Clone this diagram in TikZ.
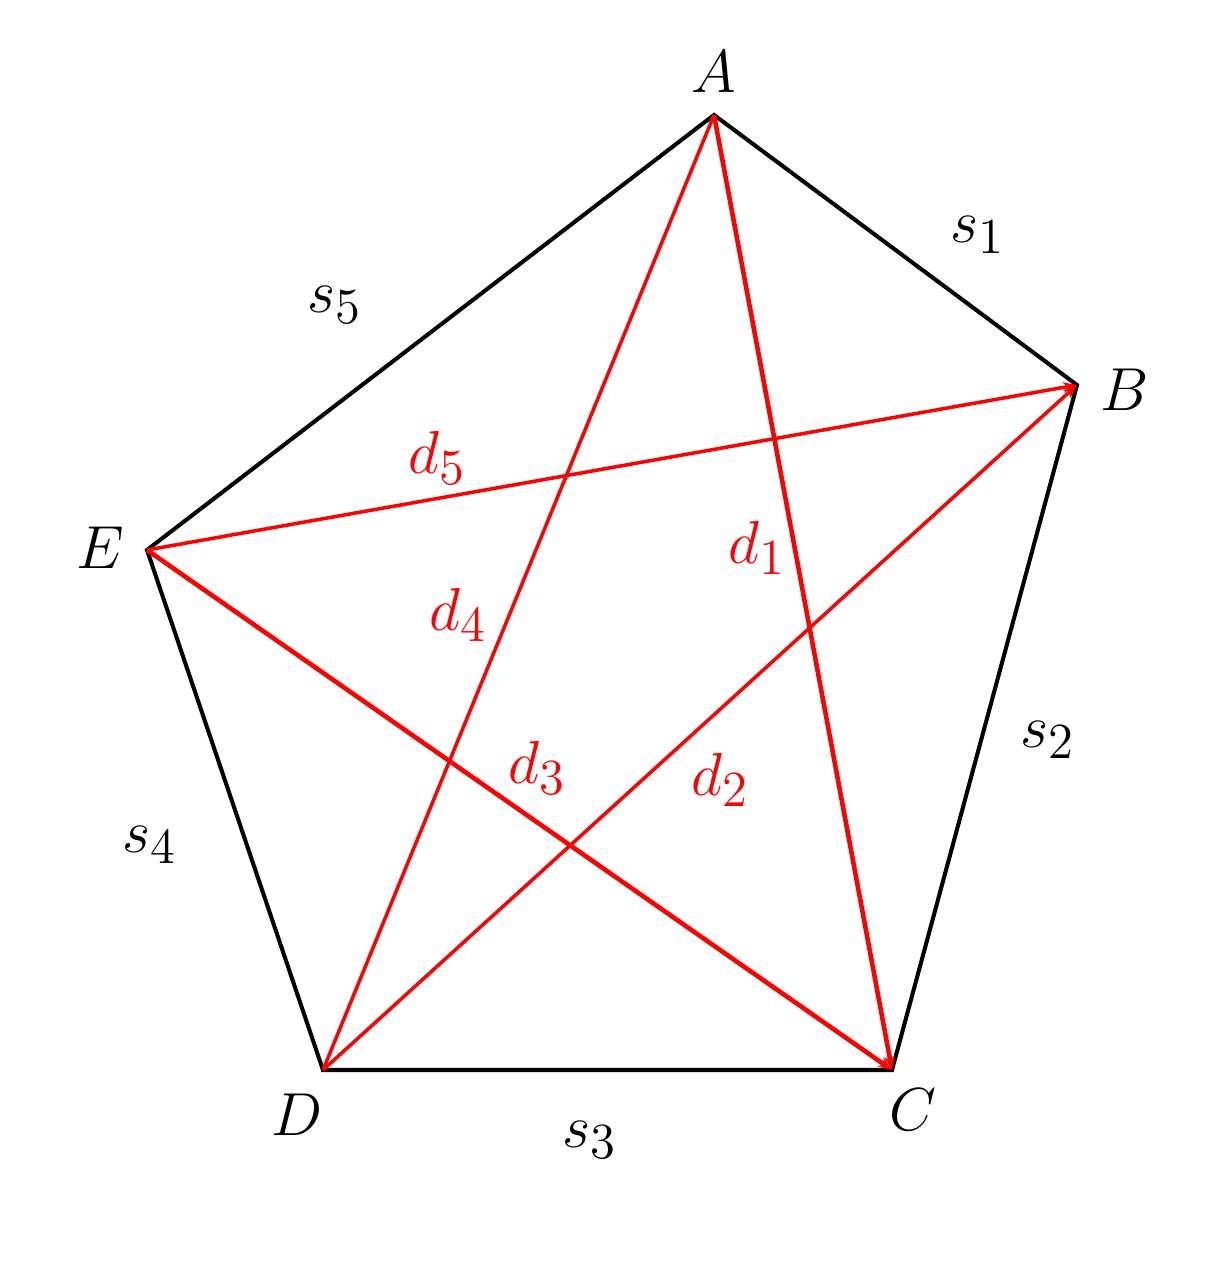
\documentclass[tikz,border=0pt]{standalone}
\usepackage{amsmath}
\usepackage{tikz}
\usetikzlibrary{arrows.meta,positioning}
\tikzset{side/.style={draw=black, line width=1.15pt},
diag/.style={draw=red, line width=1pt},
every node/.style={font=\fontsize{19}{23}\selectfont}
}
\begin{document}
\begin{tikzpicture}[x=1cm, y=1cm]
      \useasboundingbox (0,0) rectangle (12.29,12.80);
      \coordinate (A) at (7.14,11.65);
      \coordinate (B) at (10.77,8.95);
      \coordinate (C) at (8.92,2.10);
      \coordinate (D) at (3.23,2.10);
      \coordinate (E) at (1.47,7.30);
      % vertex labels
      \node (lA) at (7.14,12.08) {$A$};
      \node (lB) at (11.25,8.90) {$B$};
      \node (lC) at (9.13,1.70)  {$C$};
      \node (lD) at (2.97,1.65)  {$D$};
      \node (lE) at (1.00,7.32)  {$E$};
      % sides
      \path[side] (A) -- (B) -- (C) -- (D) -- (E) -- cycle;
      \node (s1) at (9.78,10.45) {$s_1$};
      \node (s2) at (10.48,5.40) {$s_2$};
      \node (s3) at (5.90,1.40)  {$s_3$};
      \node (s4) at (1.50,4.35)  {$s_4$};
      \node (s5) at (3.35,9.75)  {$s_5$};
      % diagonals
      \path[diag, line width=1.3pt, -{Stealth[length=4pt,width=3pt]}] (A) -- (C);
      \path[diag, -{Stealth[length=4pt,width=3pt]}] (D) -- (B);
      \path[diag, line width=1.3pt, -{Stealth[length=4pt,width=3pt]}] (E) -- (C);
      \path[diag] (D) -- (A);
      \path[diag, -{Stealth[length=4pt,width=3pt]}] (E) -- (B);
      \node[red] (d1) at (7.57,7.32) {$d_1$};
      \node[red] (d2) at (7.20,5.00) {$d_2$};
      \node[red] (d3) at (5.37,5.12) {$d_3$};
      \node[red] (d4) at (4.58,6.65) {$d_4$};
      \node[red] (d5) at (4.37,8.22) {$d_5$};
\end{tikzpicture}
\end{document}
